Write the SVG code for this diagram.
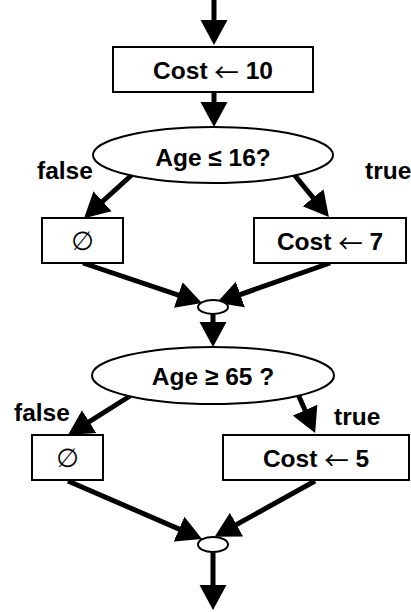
<svg xmlns="http://www.w3.org/2000/svg" width="411" height="612" viewBox="0 0 411 612">
  <defs>
    <marker id="head" markerUnits="userSpaceOnUse" markerWidth="26" markerHeight="28" viewBox="0 0 26 28" refX="19" refY="14" orient="auto">
      <path d="M0,0.5 L25,14 L0,27.5 z" fill="#000"/>
    </marker>
    <style>
      .box { fill: #fff; stroke: #000; stroke-width: 2; }
      .merge { fill: #fff; stroke: #000; stroke-width: 2; }
      .flow { stroke: #000; stroke-width: 5; fill: none; marker-end: url(#head); }
      .lbl { font-family: "Liberation Sans", Arial, sans-serif; font-weight: bold; font-size: 24.5px; fill: #000; }
      .mid { text-anchor: middle; }
      .arr { font-family: "Noto Sans CJK SC", "DejaVu Sans", sans-serif; font-weight: normal; }
      .empty { font-family: "DejaVu Sans", sans-serif; font-weight: normal; font-size: 26px; text-anchor: middle; fill: #000; }
    </style>
  </defs>

  <!-- flow connectors -->
  <g id="connectors">
    <line class="flow" x1="214" y1="0" x2="214" y2="39"/>
    <line class="flow" x1="214" y1="92" x2="214" y2="121"/>
    <line class="flow" x1="135" y1="172" x2="88.5" y2="214.1"/>
    <line class="flow" x1="292" y1="172" x2="325.1" y2="212.4"/>
    <line class="flow" x1="83" y1="263" x2="196.3" y2="301.1"/>
    <line class="flow" x1="330" y1="263" x2="222.4" y2="300.8"/>
    <line class="flow" x1="213" y1="312" x2="213" y2="341"/>
    <line class="flow" x1="130" y1="396" x2="73.1" y2="431.8"/>
    <line class="flow" x1="297" y1="392" x2="312.7" y2="427.5"/>
    <line class="flow" x1="68" y1="481" x2="196.5" y2="536.6"/>
    <line class="flow" x1="315" y1="481" x2="219.9" y2="533.8"/>
    <line class="flow" x1="213" y1="550" x2="213" y2="604"/>
  </g>

  <!-- start: Cost set to 10 -->
  <g id="set10">
    <rect class="box" x="113" y="47" width="200" height="45"/>
    <text class="lbl mid" x="213" y="79">Cost <tspan class="arr" dy="3">←</tspan><tspan dy="-3"> 10</tspan></text>
  </g>

  <!-- first decision -->
  <g id="age16">
    <ellipse class="box" cx="213" cy="155" rx="120" ry="28"/>
    <text class="lbl mid" x="213" y="166">Age ≤ 16?</text>
  </g>
  <text class="lbl" x="37" y="179">false</text>
  <text class="lbl" x="365" y="179">true</text>

  <g id="noop1">
    <rect class="box" x="42" y="218" width="81" height="45"/>
    <text class="empty" x="82.5" y="250">∅</text>
  </g>

  <g id="set7">
    <rect class="box" x="254" y="218" width="152" height="45"/>
    <text class="lbl mid" x="330" y="250">Cost <tspan class="arr" dy="3">←</tspan><tspan dy="-3"> 7</tspan></text>
  </g>

  <g id="join1">
    <ellipse class="merge" cx="213" cy="307" rx="15" ry="7"/>
  </g>

  <!-- second decision -->
  <g id="age65">
    <ellipse class="box" cx="213" cy="375.5" rx="121" ry="28.5"/>
    <text class="lbl mid" x="213" y="385">Age ≥ 65 ?</text>
  </g>
  <text class="lbl" x="14" y="421">false</text>
  <text class="lbl" x="334" y="425">true</text>

  <g id="noop2">
    <rect class="box" x="32" y="435" width="71" height="45"/>
    <text class="empty" x="67.5" y="467">∅</text>
  </g>

  <g id="set5">
    <rect class="box" x="223" y="435" width="186" height="45"/>
    <text class="lbl mid" x="316" y="467">Cost <tspan class="arr" dy="3">←</tspan><tspan dy="-3"> 5</tspan></text>
  </g>

  <g id="join2">
    <ellipse class="merge" cx="213" cy="544.5" rx="15" ry="7.5"/>
  </g>
</svg>
